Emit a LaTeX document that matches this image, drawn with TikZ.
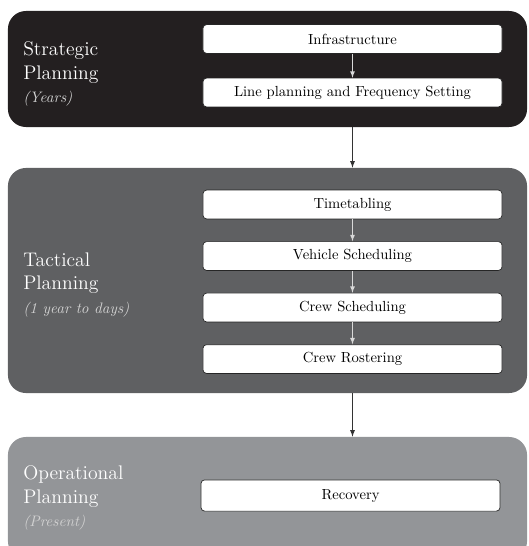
\documentclass[tikz,border=0pt]{standalone}
\usepackage{xcolor}
\usetikzlibrary{positioning}
\definecolor{darkblock}{HTML}{231F20}
\definecolor{midblock}{HTML}{5F6062}
\definecolor{lightblock}{HTML}{939598}
\begin{document}
\begin{tikzpicture}[x=0.025cm, y=-0.025cm,
            every node/.style={inner sep=0pt}
        ]
        \tikzstyle {phase_box} = [rounded corners=0.45cm, minimum width=12.975cm]
        \tikzstyle {task_box} = [draw=black!85, fill=white, rounded corners=0.09cm, line width=0.5pt, minimum width=7.475cm, minimum height=0.72cm, font=\fontsize{10.4}{12}\selectfont]
        \tikzstyle {phase_text} = [anchor=west, align=left, text=white, font=\fontsize{14}{16.5}\selectfont]
        \tikzstyle {inner_arrow} = [-latex, draw=white!85!black, line width=0.6pt]
        \tikzstyle {outer_arrow} = [-latex, draw=black!80, line width=0.6pt]
        \newcommand{\sublabel}[1]{{\fontsize{10.8}{12}\selectfont\itshape\color{white!82!black}#1}}

        \clip (0,0) rectangle (528,546);

        % planning levels
        \node [phase_box, fill=darkblock, minimum height=2.9cm] (strat) at (267.5,69) {};
        \node [phase_box, fill=midblock, minimum height=5.625cm] (tact) at (267.5,280.5) {};
        \node [phase_box, fill=lightblock, minimum height=3.05cm] (oper) at (267.5,498) {};

        \node [phase_text] (strat_lbl) at (23,74) {Strategic\\Planning\\\sublabel{(Years)}};
        \node [phase_text] (tact_lbl) at (23,285) {Tactical\\Planning\\\sublabel{(1 year to days)}};
        \node [phase_text] (oper_lbl) at (23,498) {Operational\\Planning\\\sublabel{(Present)}};

        % tasks
        \node [task_box] (infra) at (352.5,39) {Infrastructure};
        \node [task_box, below=0.6cm of infra] (lp) {Line planning and Frequency Setting};
        \node [task_box] (tt) at (352.5,204.5) {Timetabling};
        \node [task_box, below=0.55cm of tt] (vs) {Vehicle Scheduling};
        \node [task_box, below=0.55cm of vs] (cs) {Crew Scheduling};
        \node [task_box, below=0.55cm of cs] (cr) {Crew Rostering};
        \node [task_box, minimum height=0.78cm] (rec) at (350.5,495.5) {Recovery};

        \draw [inner_arrow] (infra) -- (lp);
        \draw [inner_arrow] (tt) -- (vs);
        \draw [inner_arrow] (vs) -- (cs);
        \draw [inner_arrow] (cs) -- (cr);

        \draw [outer_arrow] (strat.south -| lp.south) -- (tact.north -| lp.south);
        \draw [outer_arrow] (tact.south -| lp.south) -- (oper.north -| lp.south);

        \end{tikzpicture}
\end{document}
